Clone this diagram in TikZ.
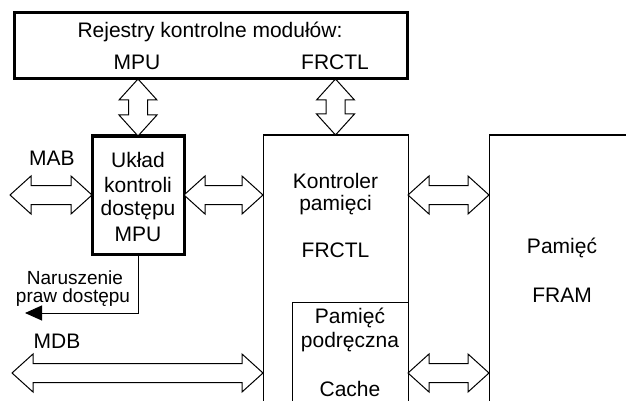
\documentclass[tikz,border=0pt]{standalone}
\usepackage{fontspec}
\setmainfont{Liberation Sans}
\usetikzlibrary{calc,arrows.meta}
\tikzset{
  thickbox/.style={draw, line width=3pt, minimum width=#1, inner sep=0pt, outer sep=0pt, anchor=north west},
  thinbox/.style={draw, line width=1pt, fill=white, minimum width=#1, inner sep=0pt, outer sep=0pt, anchor=north west},
  txt/.style={anchor=base, inner sep=0pt, font=\fontsize{21}{25}\selectfont},
  small/.style={anchor=base, inner sep=0pt, font=\fontsize{19}{22}\selectfont},
  bus/.style={draw, line width=1pt, fill=white, line join=miter},
  signal/.style={draw, line width=1pt, -{Triangle[length=17pt,width=15pt]}}
}
\newcommand\hbus[2]{%
  \path[bus] let \p1=(#1), \p2=(#2) in
    (\x1,\y1) -- ({\x1+21pt},{\y1+19pt}) -- ({\x1+21pt},{\y1+9.5pt})
    -- ({\x2-21pt},{\y1+9.5pt}) -- ({\x2-21pt},{\y1+19pt}) -- (\x2,\y1)
    -- ({\x2-21pt},{\y1-19pt}) -- ({\x2-21pt},{\y1-9.5pt})
    -- ({\x1+21pt},{\y1-9.5pt}) -- ({\x1+21pt},{\y1-19pt}) -- cycle;}
\newcommand\vbus[2]{%
  \path[bus] let \p1=(#1), \p2=(#2) in
    (\x1,\y1) -- ({\x1+19pt},{\y1-21pt}) -- ({\x1+9.5pt},{\y1-21pt})
    -- ({\x1+9.5pt},{\y2+21pt}) -- ({\x1+19pt},{\y2+21pt}) -- (\x1,\y2)
    -- ({\x1-19pt},{\y2+21pt}) -- ({\x1-9.5pt},{\y2+21pt})
    -- ({\x1-9.5pt},{\y1-21pt}) -- ({\x1-19pt},{\y1-21pt}) -- cycle;}
\begin{document}
\begin{tikzpicture}[x=1pt,y=-1pt]
\useasboundingbox (0,0) rectangle (626,401);
\clip (0,0) rectangle (626,401);
% boxes
\node[thickbox=393, minimum height=66] (reg) at (14,13) {};
\node[thickbox=92, minimum height=118] (mpu) at (92,136) {};
\node[thinbox=145, minimum height=300] (kont) at (263,135) {};
\node[thinbox=116, minimum height=200] (cache) at (292,302) {};
\node[thinbox=200, minimum height=300] (fram) at (489,135) {};
% texts
\node[txt] (t1) at (210,38) {Rejestry kontrolne modułów:};
\node[txt] (t2) at (137,70) {MPU};
\node[txt] (t3) at (335,70) {FRCTL};
\node[txt] (m1) at (138,167) {Układ};
\node[txt] (m2) at (138,192) {kontroli};
\node[txt] (m3) at (138,215.5) {dostępu};
\node[txt] (m4) at (138,241.5) {MPU};
\node[txt] (mab) at (52,165) {MAB};
\node[txt] (k1) at (335.5,188) {Kontroler};
\node[txt] (k2) at (335.5,210.5) {pamięci};
\node[txt] (k3) at (335.5,257) {FRCTL};
\node[txt] (f1) at (562,253) {Pamięć};
\node[txt] (f2) at (562,302) {FRAM};
\node[txt] (c1) at (350,323) {Pamięć};
\node[txt] (c2) at (350,347) {podręczna};
\node[txt] (c3) at (350,396) {Cache};
\node[small] (n1) at (75,284) {Naruszenie};
\node[small] (n2) at (73,302) {praw dostępu};
\node[txt] (mdb) at (57,348) {MDB};
% coordinates
\coordinate (mabL) at (10,195);
\coordinate (mdbL) at (12,373);
\coordinate (narL) at (25,313);
% buses
\vbus{reg.south -| mpu.north}{mpu.north}
\vbus{reg.south -| kont.north}{kont.north}
\hbus{mabL}{mabL -| mpu.west}
\hbus{mpu.east}{mpu.east -| kont.west}
\hbus{mpu.east -| kont.east}{mpu.east -| fram.west}
\hbus{mdbL}{mdbL -| kont.west}
\hbus{mdbL -| cache.east}{mdbL -| fram.west}
% violation signal
\draw[signal] (mpu.south) |- (narL);
\end{tikzpicture}
\end{document}
